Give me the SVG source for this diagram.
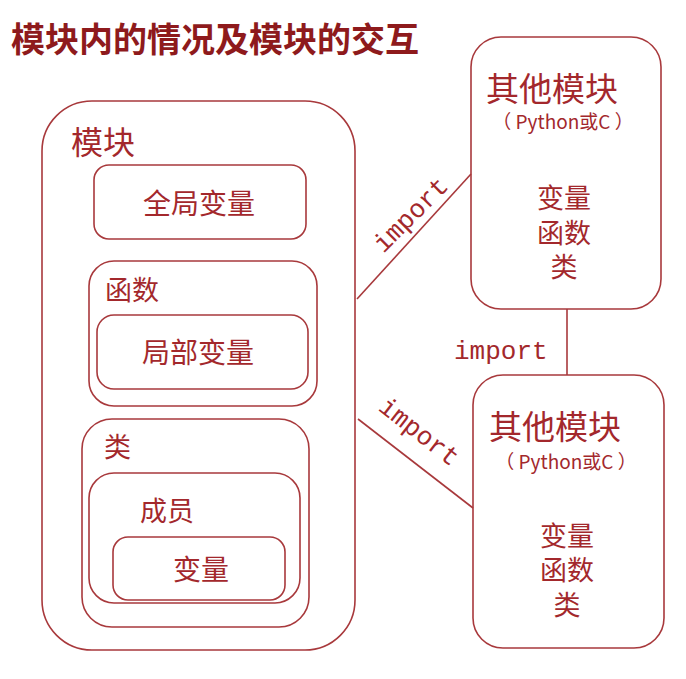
<svg xmlns="http://www.w3.org/2000/svg" width="686" height="679" viewBox="0 0 686 679">
<style>
.box{fill:none;stroke:#A8393C;stroke-width:1.6}
.ln{fill:none;stroke:#A8393C;stroke-width:1.6}
.t{font-family:"Noto Sans CJK SC","Noto Sans",sans-serif;fill:#A3282C}
.title{font-family:"Noto Sans CJK SC","Noto Sans",sans-serif;font-weight:bold;fill:#8E1A1C;font-size:34px}
.imp{font-family:"Liberation Mono","DejaVu Sans Mono",monospace;fill:#A3282C;font-size:26px}
.m{text-anchor:middle}
</style>
<rect width="686" height="679" fill="#fff"/>
<text class="title" x="11" y="52">模块内的情况及模块的交互</text>

<g id="connectors">
<line class="ln" x1="357" y1="299" x2="471" y2="174"/>
<line class="ln" x1="358" y1="419" x2="473" y2="508"/>
<line class="ln" x1="567" y1="309" x2="567" y2="375"/>
<text class="imp m" transform="translate(411,215) rotate(-45)" x="0" y="8">import</text>
<text class="imp m" transform="translate(419,432) rotate(38)" x="0" y="8">import</text>
<text class="imp" x="454" y="359">import</text>
</g>

<g id="module">
<rect class="box" x="42" y="101" width="313" height="549" rx="50"/>
<text class="t" x="71" y="154" font-size="32">模块</text>
</g>
<g id="global-var">
<rect class="box" x="94" y="165" width="212" height="74" rx="15"/>
<text class="t m" x="199" y="214" font-size="28">全局变量</text>
</g>
<g id="function">
<rect class="box" x="89" y="261" width="228" height="145" rx="25"/>
<text class="t" x="105" y="300" font-size="27">函数</text>
</g>
<g id="local-var">
<rect class="box" x="97" y="315" width="211" height="74" rx="17"/>
<text class="t m" x="198" y="363" font-size="28">局部变量</text>
</g>
<g id="class">
<rect class="box" x="82" y="419" width="227" height="208" rx="30"/>
<text class="t" x="104" y="457" font-size="27">类</text>
</g>
<g id="member">
<rect class="box" x="89" y="473" width="211" height="130" rx="25"/>
<text class="t" x="140" y="521" font-size="27">成员</text>
</g>
<g id="member-var">
<rect class="box" x="113" y="537" width="172" height="63" rx="15"/>
<text class="t m" x="201" y="580" font-size="28">变量</text>
</g>

<g id="other-module-1">
<rect class="box" x="471" y="37" width="190" height="272" rx="30"/>
<text class="t" x="486" y="101" font-size="33">其他模块</text>
<text class="t m" x="563" y="129" font-size="19">（ Python或C ）</text>
<text class="t m" font-size="27"><tspan x="564" y="208">变量</tspan><tspan x="564" y="243">函数</tspan><tspan x="564" y="277">类</tspan></text>
</g>
<g id="other-module-2">
<rect class="box" x="473" y="375" width="191" height="273" rx="30"/>
<text class="t" x="489" y="439" font-size="33">其他模块</text>
<text class="t m" x="566" y="469" font-size="19">（ Python或C ）</text>
<text class="t m" font-size="27"><tspan x="567" y="546">变量</tspan><tspan x="567" y="580">函数</tspan><tspan x="567" y="615">类</tspan></text>
</g>
</svg>
